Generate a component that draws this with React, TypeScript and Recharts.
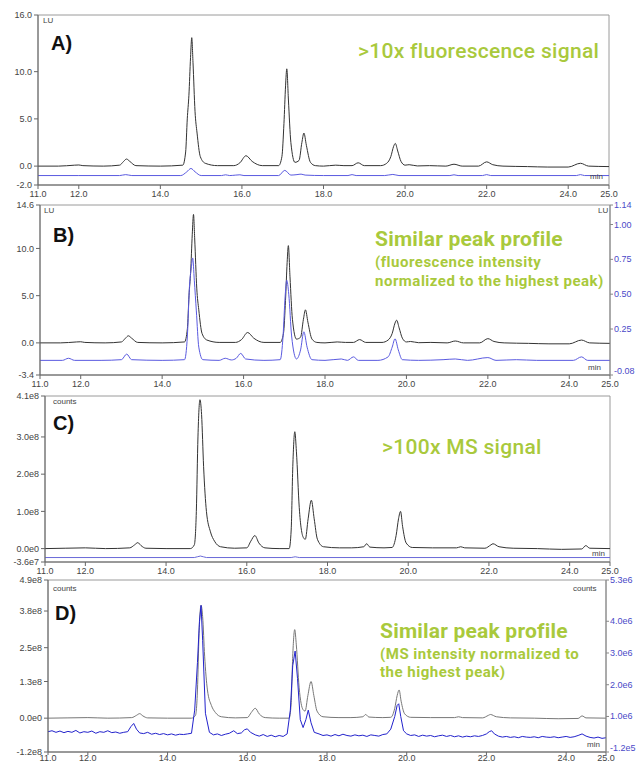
import { LineChart, Line, XAxis, YAxis, ReferenceArea } from "recharts";

// retention time ticks (min)
const xTicks = [11, 12, 14, 16, 18, 20, 22, 24, 25];

// fluorescence trace (LU), used in A and B
const flTime = [11.0, 11.5, 11.9, 12.0, 12.1, 12.6, 13.0, 13.1, 13.17, 13.25, 13.4, 14.0, 14.55, 14.62, 14.66, 14.7, 14.74, 14.77, 14.8, 14.85, 14.9, 14.98, 15.1, 15.4, 15.8, 15.95, 16.1, 16.25, 16.5, 16.9, 16.98, 17.03, 17.07, 17.1, 17.14, 17.2, 17.3, 17.4, 17.47, 17.52, 17.58, 17.68, 17.8, 18.0, 18.3, 18.5, 18.7, 18.85, 19.0, 19.4, 19.55, 19.65, 19.72, 19.76, 19.82, 19.9, 20.0, 20.1, 20.3, 20.6, 21.0, 21.2, 21.4, 21.8, 22.0, 22.15, 22.4, 23.0, 23.5, 24.0, 24.3, 24.5, 25.0];
const flValues = [0.0, 0.0, 0.1, 0.12, 0.05, 0.0, 0.1, 0.5, 0.75, 0.5, 0.05, 0.0, 0.1, 1.5, 5.0, 7.5, 11.5, 13.6, 11.0, 5.8, 3.5, 1.0, 0.3, 0.05, 0.05, 0.35, 1.1, 0.5, 0.05, 0.05, 1.0, 4.5, 8.5, 10.3, 7.0, 2.5, 0.4, 0.6, 2.5, 3.5, 2.2, 0.4, 0.05, 0.0, 0.1, 0.05, 0.05, 0.35, 0.05, 0.05, 0.3, 1.0, 2.1, 2.4, 1.6, 0.5, 0.1, 0.15, 0.02, 0.05, 0.0, 0.2, 0.0, 0.0, 0.45, 0.15, 0.0, -0.05, -0.1, -0.1, 0.3, 0.0, -0.05];

// weak fluorescence trace (LU), panel A
const flLowTime = [11.0, 12.0, 13.0, 13.15, 13.3, 14.5, 14.65, 14.75, 14.85, 15.0, 15.5, 15.6, 15.7, 15.85, 15.95, 16.05, 16.9, 17.05, 17.2, 17.35, 17.45, 17.55, 18.0, 18.6, 18.7, 18.8, 19.5, 19.7, 19.85, 21.1, 21.2, 21.3, 21.9, 22.0, 22.1, 24.2, 24.3, 24.4, 25.0];
const flLowValues = [-1.0, -1.0, -1.0, -0.9, -1.0, -1.0, -0.6, -0.25, -0.6, -1.0, -1.0, -0.92, -1.0, -0.95, -0.92, -1.0, -1.0, -0.45, -0.95, -0.9, -0.85, -0.95, -1.0, -1.0, -0.9, -1.0, -1.0, -0.88, -1.0, -1.0, -0.92, -1.0, -1.0, -0.9, -1.0, -1.0, -0.9, -1.0, -1.0];

// weak fluorescence trace normalized (LU), panel B right axis
const flNormTime = [11.0, 11.55, 11.7, 11.85, 12.5, 13.0, 13.13, 13.25, 14.0, 14.55, 14.62, 14.67, 14.72, 14.75, 14.79, 14.84, 14.9, 15.0, 15.4, 15.55, 15.7, 15.82, 15.93, 16.05, 16.5, 16.9, 16.97, 17.02, 17.06, 17.11, 17.18, 17.3, 17.4, 17.48, 17.56, 17.68, 18.0, 18.4, 18.55, 18.7, 18.82, 19.3, 19.55, 19.65, 19.72, 19.8, 19.9, 20.3, 20.9, 21.2, 21.5, 22.0, 22.2, 22.7, 23.2, 24.1, 24.3, 24.45, 25.0];
const flNormValues = [0.025, 0.025, 0.04, 0.025, 0.025, 0.03, 0.07, 0.03, 0.025, 0.03, 0.2, 0.55, 0.7, 0.76, 0.6, 0.38, 0.12, 0.03, 0.025, 0.04, 0.028, 0.04, 0.075, 0.035, 0.025, 0.03, 0.2, 0.48, 0.6, 0.5, 0.2, 0.035, 0.1, 0.23, 0.12, 0.03, 0.025, 0.035, 0.025, 0.05, 0.025, 0.025, 0.05, 0.12, 0.18, 0.1, 0.03, 0.025, 0.03, 0.035, 0.025, 0.045, 0.025, 0.03, 0.025, 0.025, 0.05, 0.025, 0.025];

// MS trace (x1e8 counts), used in C and D
const msTime = [11.0, 11.5, 12.0, 12.5, 13.1, 13.22, 13.3, 13.38, 13.5, 14.0, 14.6, 14.7, 14.75, 14.79, 14.84, 14.88, 14.93, 15.0, 15.1, 15.2, 15.35, 15.7, 16.0, 16.1, 16.2, 16.3, 16.45, 16.8, 17.05, 17.1, 17.14, 17.19, 17.23, 17.3, 17.4, 17.45, 17.52, 17.6, 17.67, 17.75, 17.9, 18.3, 18.6, 18.9, 18.97, 19.05, 19.4, 19.6, 19.7, 19.76, 19.81, 19.86, 19.95, 20.1, 20.6, 21.2, 21.3, 21.4, 21.9, 22.05, 22.1, 22.25, 22.6, 23.2, 23.8, 24.3, 24.4, 24.5, 25.0];
const msValues = [0.0, 0.01, 0.02, 0.0, 0.02, 0.1, 0.16, 0.08, 0.01, 0.0, 0.0, 0.1, 1.0, 3.0, 4.0, 3.6, 2.2, 1.0, 0.45, 0.2, 0.05, 0.01, 0.02, 0.2, 0.35, 0.15, 0.02, 0.0, 0.0, 0.5, 2.2, 3.14, 2.6, 1.1, 0.3, 0.25, 0.8, 1.3, 0.8, 0.25, 0.05, 0.02, 0.02, 0.05, 0.13, 0.04, 0.02, 0.03, 0.35, 0.8, 1.0, 0.6, 0.15, 0.03, 0.02, 0.02, 0.05, 0.02, 0.01, 0.1, 0.13, 0.05, 0.01, 0.0, -0.02, -0.01, 0.08, 0.01, 0.0];

// weak MS trace (x1e8 counts), panel C
const msLowTime = [11.0, 14.7, 14.85, 15.0, 17.1, 17.2, 17.3, 25.0];
const msLowValues = [-0.24, -0.24, -0.2, -0.24, -0.24, -0.22, -0.24, -0.24];

// weak MS trace (x1e6 counts), panel D right axis
const msNormTime = [11.0, 11.1, 11.2, 11.3, 11.4, 11.5, 11.6, 11.7, 11.8, 11.9, 12.0, 12.1, 12.2, 12.3, 12.4, 12.5, 12.6, 12.7, 12.8, 12.9, 13.0, 13.08, 13.15, 13.22, 13.3, 13.4, 13.5, 13.6, 13.7, 13.8, 13.9, 14.0, 14.1, 14.2, 14.3, 14.4, 14.5, 14.6, 14.68, 14.75, 14.8, 14.84, 14.88, 14.95, 15.05, 15.15, 15.25, 15.35, 15.45, 15.55, 15.66, 15.75, 15.85, 15.93, 16.0, 16.08, 16.2, 16.3, 16.4, 16.5, 16.6, 16.7, 16.8, 16.9, 17.0, 17.08, 17.14, 17.2, 17.26, 17.33, 17.4, 17.47, 17.53, 17.6, 17.68, 17.8, 17.9, 18.0, 18.1, 18.2, 18.3, 18.4, 18.5, 18.6, 18.7, 18.8, 18.9, 19.0, 19.1, 19.2, 19.3, 19.4, 19.5, 19.6, 19.7, 19.76, 19.8, 19.85, 19.92, 20.0, 20.1, 20.2, 20.3, 20.4, 20.5, 20.6, 20.7, 20.8, 20.9, 21.0, 21.1, 21.2, 21.3, 21.4, 21.5, 21.6, 21.7, 21.8, 21.9, 22.0, 22.07, 22.13, 22.2, 22.3, 22.4, 22.5, 22.6, 22.7, 22.8, 22.9, 23.0, 23.1, 23.2, 23.3, 23.4, 23.5, 23.6, 23.7, 23.8, 23.9, 24.0, 24.1, 24.2, 24.3, 24.4, 24.5, 24.6, 24.7, 24.8, 24.9, 25.0];
const msNormValues = [
  0.52, 0.55, 0.5, 0.54, 0.49, 0.53, 0.5, 0.56, 0.48, 0.52, 0.5, 0.54, 0.47, 0.52, 0.5, 0.55, 0.49, 0.51, 0.47, 0.5, 0.52,
  0.68, 0.78, 0.6,
  0.48, 0.46, 0.5, 0.44, 0.47, 0.43, 0.46, 0.42, 0.45, 0.41, 0.44, 0.43, 0.45, 0.47,
  1.2, 2.7, 4.0, 4.5, 3.4, 1.1,
  0.5, 0.42, 0.45, 0.4, 0.44, 0.47, 0.55, 0.46, 0.48, 0.58,
  0.61, 0.5, 0.42, 0.38, 0.43, 0.37, 0.41, 0.36, 0.4, 0.37, 0.45,
  1.2, 2.6, 3.06, 2.2, 0.9, 0.65, 0.9, 1.2, 0.8, 0.5,
  0.45, 0.4,
  0.42, 0.38, 0.43, 0.39, 0.44, 0.4, 0.38, 0.42, 0.39, 0.41, 0.37, 0.42, 0.4, 0.38, 0.43, 0.45, 0.6, 1.0,
  1.35, 1.4, 1.0, 0.55,
  0.45, 0.4, 0.42, 0.37, 0.41, 0.38, 0.4, 0.36, 0.39, 0.41, 0.37, 0.4, 0.36, 0.39, 0.35, 0.38, 0.36, 0.39, 0.37, 0.4, 0.45,
  0.52, 0.55, 0.45,
  0.38, 0.35, 0.37, 0.34, 0.36, 0.33, 0.37, 0.35, 0.34, 0.36, 0.33, 0.37, 0.35, 0.34, 0.36, 0.33, 0.35, 0.37, 0.34, 0.36, 0.4, 0.45, 0.38, 0.34, 0.32, 0.35, 0.31, 0.33,
];

// axis ticks
const aTicks = [-2, 0, 5, 10, 16];
const bTicks = [-3.4, 0, 5, 10, 14.6];
const bRightTicks = [-0.08, 0.25, 0.5, 0.75, 1.0, 1.14];
const cTicks = [-0.36, 0, 1, 2, 3, 4.1];
const dTicks = [-1.2, 0, 1.3, 2.5, 3.8, 4.9];
const dRightTicks = [-0.12, 1, 2, 3, 4, 5.3];

const zip = (t: number[], v: number[]) => t.map((x, i) => ({ t: x, v: v[i] }));

const GREEN = "#a9c93c";
const FONT = "'Liberation Sans', Arial, sans-serif";
const tickStyle = { fontSize: 9, fill: "#444", fontFamily: FONT };

const fix1 = (v: number) => v.toFixed(1);
const fix2 = (v: number) => v.toFixed(2);
const exp = (scale: number) => (v: number) => (v * scale).toExponential(1).replace("+", "");

type Series = { data: { t: number; v: number }[]; color: string; axis: "left" | "right"; width?: number; type?: "monotone" | "linear" };

type PanelProps = {
  top: number;
  height: number;
  plotTop: number;
  left: number;
  right: number;
  yDomain: [number, number];
  yTicks: number[];
  yFormat: (v: number) => string;
  rDomain?: [number, number];
  rTicks?: number[];
  rFormat?: (v: number) => string;
  xTickSize?: number;
  xTickMargin?: number;
  series: Series[];
};

// right axis labels: the bottom one is nudged up so it stays clear of the x labels
function rightTick(format: (v: number) => string, lo: number) {
  return (props: any) => {
    const { x, y, payload } = props;
    const v = payload.value as number;
    return (
      <text x={x} y={y} dy={v === lo ? -1 : 3} textAnchor="start" fontSize={9} fill="#4a4ac8" fontFamily={FONT}>
        {format(v)}
      </text>
    );
  };
}

function Panel(p: PanelProps) {
  const hasRight = !!p.rDomain;
  return (
    <div style={{ position: "absolute", left: 0, top: p.top }}>
      <LineChart
        width={636}
        height={p.height}
        margin={{ top: p.plotTop - p.top, bottom: 2, left: 0, right: hasRight ? 0 : 636 - p.right }}
      >
        <XAxis
          type="number"
          dataKey="t"
          domain={[11, 25]}
          ticks={xTicks}
          interval={0}
          allowDataOverflow
          tickFormatter={fix1}
          tick={tickStyle}
          tickSize={p.xTickSize ?? 4}
          tickMargin={p.xTickMargin ?? 2}
          height={18}
          stroke="#666"
        />
        <YAxis
          yAxisId="left"
          type="number"
          domain={p.yDomain}
          ticks={p.yTicks}
          interval={0}
          allowDataOverflow
          tickFormatter={p.yFormat}
          tick={tickStyle}
          tickSize={4}
          tickMargin={2}
          width={p.left}
          stroke="#666"
        />
        {hasRight && (
          <YAxis
            yAxisId="right"
            orientation="right"
            type="number"
            domain={p.rDomain}
            ticks={p.rTicks}
            interval={0}
            allowDataOverflow
            tick={rightTick(p.rFormat!, p.rDomain![0])}
            tickSize={3}
            tickMargin={1}
            width={636 - p.right}
            stroke="#888"
          />
        )}
        <ReferenceArea yAxisId="left" x1={11} x2={25} y1={p.yDomain[0]} y2={p.yDomain[1]} fill="none" stroke="#9a9a9a" strokeWidth={1} />
        {p.series.map((s, i) => (
          <Line
            key={i}
            yAxisId={s.axis}
            data={s.data}
            dataKey="v"
            type={s.type ?? "monotone"}
            stroke={s.color}
            strokeWidth={s.width ?? 1}
            dot={false}
            activeDot={false}
            isAnimationActive={false}
          />
        ))}
      </LineChart>
    </div>
  );
}

const abs = (x: number, y: number, extra: React.CSSProperties = {}): React.CSSProperties => ({
  position: "absolute",
  left: x,
  top: y,
  whiteSpace: "nowrap",
  lineHeight: 1,
  ...extra,
});

const small = { fontSize: 8, fontFamily: FONT, color: "#444" };
const letter = { fontSize: 20, fontFamily: FONT, fontWeight: 700, color: "#111" };
const head = { fontSize: 21, fontFamily: "Roboto, sans-serif", fontWeight: 500, color: GREEN, letterSpacing: 0.3 };
const headBold = { fontSize: 21, fontFamily: "Roboto, sans-serif", fontWeight: 700, color: GREEN, letterSpacing: 0.2 };
const sub = { fontSize: 15, fontFamily: "Roboto, sans-serif", fontWeight: 700, color: GREEN, letterSpacing: 0.5 };

export default function App() {
  return (
    <div style={{ position: "absolute", left: 0, top: 0, width: 636, height: 764, overflow: "hidden", background: "#fff" }}>
      <Panel
        top={0}
        height={205}
        plotTop={15}
        left={38}
        right={609}
        yDomain={[-2, 16]}
        yTicks={aTicks}
        yFormat={fix1}
        series={[
          { data: zip(flLowTime, flLowValues), color: "#5a5ae0", axis: "left" },
          { data: zip(flTime, flValues), color: "#333", axis: "left" },
        ]}
      />
      <Panel
        top={195}
        height={200}
        plotTop={205}
        left={40}
        right={610}
        yDomain={[-3.4, 14.6]}
        yTicks={bTicks}
        yFormat={fix1}
        rDomain={[-0.08, 1.14]}
        rTicks={bRightTicks}
        rFormat={fix2}
        series={[
          { data: zip(flTime, flValues), color: "#333", axis: "left" },
          { data: zip(flNormTime, flNormValues), color: "#5a5ae0", axis: "right" },
        ]}
      />
      <Panel
        top={388}
        height={194}
        plotTop={396}
        left={45}
        right={610}
        yDomain={[-0.36, 4.1]}
        yTicks={cTicks}
        yFormat={exp(1e8)}
        series={[
          { data: zip(msLowTime, msLowValues), color: "#6a6ad8", axis: "left" },
          { data: zip(msTime, msValues), color: "#333", axis: "left" },
        ]}
      />
      <Panel
        top={572}
        height={200}
        plotTop={580}
        left={48}
        right={606}
        yDomain={[-1.2, 4.9]}
        yTicks={dTicks}
        yFormat={exp(1e8)}
        rDomain={[-0.12, 5.3]}
        rTicks={dRightTicks}
        rFormat={exp(1e6)}
        xTickSize={3}
        xTickMargin={0}
        series={[
          { data: zip(msTime, msValues), color: "#777", axis: "left" },
          { data: zip(msNormTime, msNormValues), color: "#2222cc", axis: "right", type: "linear" },
        ]}
      />

      {/* panel A text */}
      <div style={abs(43, 17, small)}>LU</div>
      <div style={abs(51, 33, letter)}>A)</div>
      <div style={abs(358, 41, head)}>&gt;10x fluorescence signal</div>
      <div style={abs(590, 173, small)}>min</div>

      {/* panel B text */}
      <div style={abs(44, 207, small)}>LU</div>
      <div style={abs(598, 207, small)}>LU</div>
      <div style={abs(53, 225, letter)}>B)</div>
      <div style={abs(375, 229, headBold)}>Similar peak profile</div>
      <div style={abs(375, 255, sub)}>(fluorescence intensity</div>
      <div style={abs(375, 274, sub)}>normalized to the highest peak)</div>
      <div style={abs(588, 364, small)}>min</div>

      {/* panel C text */}
      <div style={abs(53, 398, small)}>counts</div>
      <div style={abs(53, 413, letter)}>C)</div>
      <div style={abs(382, 437, head)}>&gt;100x MS signal</div>
      <div style={abs(592, 550, small)}>min</div>

      {/* panel D text */}
      <div style={abs(53, 585, small)}>counts</div>
      <div style={abs(573, 585, small)}>counts</div>
      <div style={abs(55, 603, letter)}>D)</div>
      <div style={abs(380, 621, headBold)}>Similar peak profile</div>
      <div style={abs(380, 647, sub)}>(MS intensity normalized to</div>
      <div style={abs(380, 665, sub)}>the highest peak)</div>
      <div style={abs(587, 741, small)}>min</div>
    </div>
  );
}
